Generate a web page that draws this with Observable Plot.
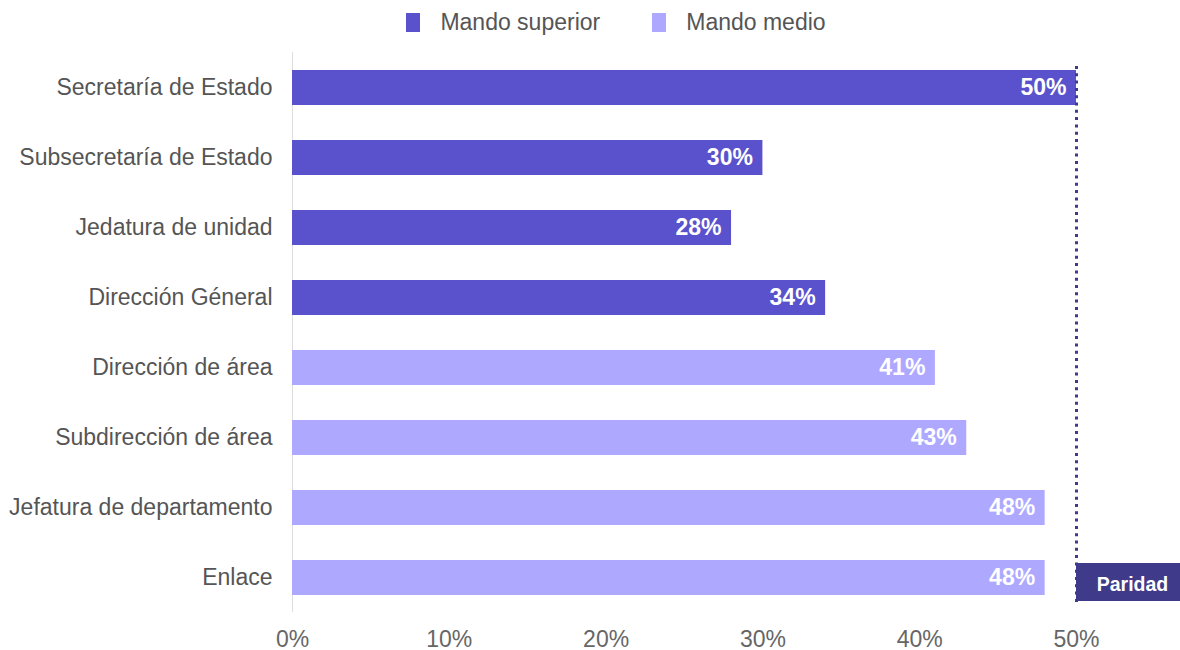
<!DOCTYPE html>
<html>
<head>
<meta charset="utf-8">
<script src="https://cdn.jsdelivr.net/npm/d3@7"></script>
<script src="https://cdn.jsdelivr.net/npm/@observablehq/plot@0.6"></script>
<style>
  html, body { margin: 0; padding: 0; background: #fff; }
  body { width: 1180px; height: 650px; overflow: hidden; font-family: "Liberation Sans", Arial, sans-serif; }
  #legend { height: 44px; display: flex; align-items: center; justify-content: center; padding-left: 52px; box-sizing: border-box; }
  .item { display: flex; align-items: center; font-size: 23px; color: #555; margin: 0 26px; }
  .sw { width: 14px; height: 19px; margin-right: 20px; }
</style>
</head>
<body>
<div id="legend"></div>
<div id="chart"></div>
<script>
const categories = ["Secretaría de Estado","Subsecretaría de Estado","Jedatura de unidad","Dirección Géneral","Dirección de área","Subdirección de área","Jefatura de departamento","Enlace"];
const values = [50, 30, 28, 34, 41, 43, 48, 48];
const groups = ["Mando superior","Mando superior","Mando superior","Mando superior","Mando medio","Mando medio","Mando medio","Mando medio"];
const groupNames = ["Mando superior","Mando medio"];
const groupColors = ["#5a52cd","#aea8ff"];
const xTicks = [0, 10, 20, 30, 40, 50];
const parity = 50;
const parityLabel = "Paridad";

const data = categories.map((c, i) => ({category: c, value: values[i], group: groups[i]}));

const legend = document.getElementById("legend");
groupNames.forEach((g, i) => {
  const it = document.createElement("div");
  it.className = "item";
  const sw = document.createElement("span");
  sw.className = "sw";
  sw.style.background = groupColors[i];
  it.appendChild(sw);
  it.appendChild(document.createTextNode(g));
  legend.appendChild(it);
});

const chart = Plot.plot({
  width: 1180,
  height: 606,
  marginTop: 8,
  marginBottom: 38,
  marginLeft: 292,
  marginRight: 104,
  style: {fontFamily: "'Liberation Sans', Arial, sans-serif", fontSize: "23px", overflow: "visible"},
  x: {domain: [0, 50], label: null},
  y: {domain: categories, paddingInner: 0.5, paddingOuter: 0.24, label: null},
  color: {domain: groupNames, range: groupColors},
  marks: [
    Plot.axisX({ticks: xTicks, tickFormat: d => d + "%", tickSize: 0, tickPadding: 18, fill: "#666", fontSize: 23, label: null}),
    Plot.axisY({tickSize: 0, tickPadding: 20, fill: "#555", fontSize: 23, label: null}),
    Plot.ruleX([0], {stroke: "#ddd", strokeWidth: 1}),
    Plot.barX(data, {x: "value", y: "category", fill: "group"}),
    Plot.text(data, {x: "value", y: "category", text: d => d.value + "%", textAnchor: "end", dx: -10, fill: "white", fontWeight: "bold", fontSize: 23}),
    Plot.ruleX([parity], {stroke: "#3f3a8a", strokeWidth: 3, strokeDasharray: "3,4.3", insetTop: 14, insetBottom: 9}),
    Plot.rect([{x: parity, y: categories[categories.length - 1]}], {x1: "x", x2: "x", y: "y", fill: "#3f3a8a", insetRight: -104, insetTop: 3, insetBottom: -6}),
    Plot.text([{x: parity, y: categories[categories.length - 1]}], {x: "x", y: "y", text: () => parityLabel, textAnchor: "middle", dx: 56, dy: 7, fill: "white", fontWeight: "bold", fontSize: 19.5})
  ]
});
document.getElementById("chart").appendChild(chart);
</script>
</body>
</html>
